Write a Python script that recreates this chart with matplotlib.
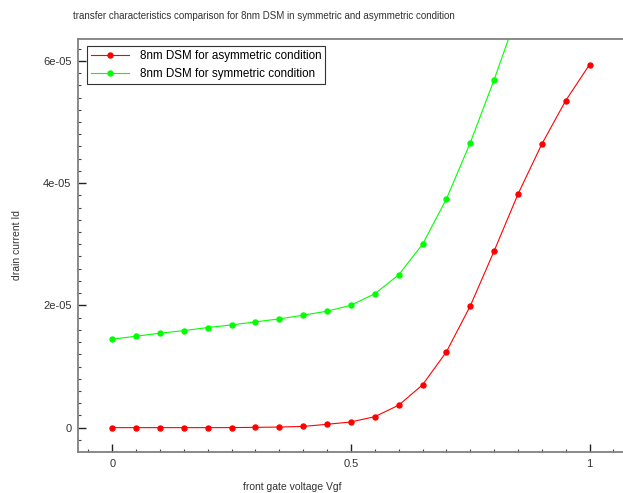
import numpy as np
import matplotlib.pyplot as plt
from matplotlib.ticker import MultipleLocator

plt.rcParams['font.family'] = ['Liberation Sans', 'DejaVu Sans']

# front gate voltage [V]
vgf = [0.0, 0.05, 0.1, 0.15, 0.2, 0.25, 0.3, 0.35, 0.4, 0.45, 0.5,
       0.55, 0.6, 0.65, 0.7, 0.75, 0.8, 0.85, 0.9, 0.95, 1.0]

# drain current, asymmetric condition [A]
id_asym = [0.0, 0.0, 0.0, 0.0, 0.0, 0.01e-6, 0.05e-6, 0.1e-6, 0.2e-6,
           0.55e-6, 0.93e-6, 1.8e-6, 3.67e-6, 7.0e-6, 12.4e-6, 19.9e-6,
           28.9e-6, 38.2e-6, 46.4e-6, 53.5e-6, 59.4e-6]

# drain current, symmetric condition [A]
vgf_sym = vgf[:18]
id_sym = [14.47e-6, 14.96e-6, 15.45e-6, 15.88e-6, 16.37e-6, 16.81e-6,
          17.30e-6, 17.79e-6, 18.40e-6, 19.05e-6, 20.03e-6, 21.9e-6,
          25.0e-6, 30.0e-6, 37.4e-6, 46.6e-6, 56.9e-6, 68.0e-6]

fig = plt.figure(figsize=(6.23, 4.93), dpi=100)
ax = fig.add_axes([0.126, 0.0832, 0.874, 0.838])

ax.plot(vgf, id_asym, '-o', color='#ff0000', lw=0.8, ms=3.6,
        label='8nm DSM for asymmetric condition')
ax.plot(vgf_sym, id_sym, '-o', color='#00ff00', lw=0.8, ms=3.6,
        label='8nm DSM for symmetric condition')

ax.set_xlim(-0.0708, 1.07)
ax.set_ylim(-0.398e-5, 6.36e-5)

ax.set_xticks([0, 0.5, 1])
ax.set_xticklabels(['0', '0.5', '1'])
ax.set_yticks([0, 2e-5, 4e-5, 6e-5])
ax.set_yticklabels(['0', '2e-05', '4e-05', '6e-05'])
ax.xaxis.set_minor_locator(MultipleLocator(0.05))
ax.yaxis.set_minor_locator(MultipleLocator(2e-6))

ax.tick_params(which='major', direction='in', length=6, width=1,
               color='#222222', labelsize=8, labelcolor='#333333', pad=5)
ax.tick_params(which='minor', direction='in', length=2.5, width=0.8,
               color='#444444')
ax.tick_params(top=False, right=False, which='both')

for s in ['left', 'bottom', 'top']:
    ax.spines[s].set_color('#808080')
    ax.spines[s].set_linewidth(1.3)
ax.spines['right'].set_visible(False)

ax.set_xlabel('front gate voltage Vgf', fontsize=7.5, color='#333333')
ax.xaxis.set_label_coords(0.392, -0.073)
ax.set_ylabel('drain current Id', fontsize=7.5, color='#333333')
ax.yaxis.set_label_coords(-0.103, 0.5)

fig.text(0.423, 0.967, 'transfer characteristics comparison for 8nm DSM in symmetric and asymmetric condition',
         ha='center', va='center', fontsize=7, color='#333333')

leg = ax.legend(loc='upper left', bbox_to_anchor=(0.015, 0.982), fontsize=8.4,
                fancybox=False, framealpha=1, edgecolor='#333333',
                handlelength=3.3, borderpad=0.35, labelspacing=0.45,
                handletextpad=0.9, borderaxespad=0)
leg.get_frame().set_linewidth(0.8)

fig.savefig('out.png', dpi=100)
